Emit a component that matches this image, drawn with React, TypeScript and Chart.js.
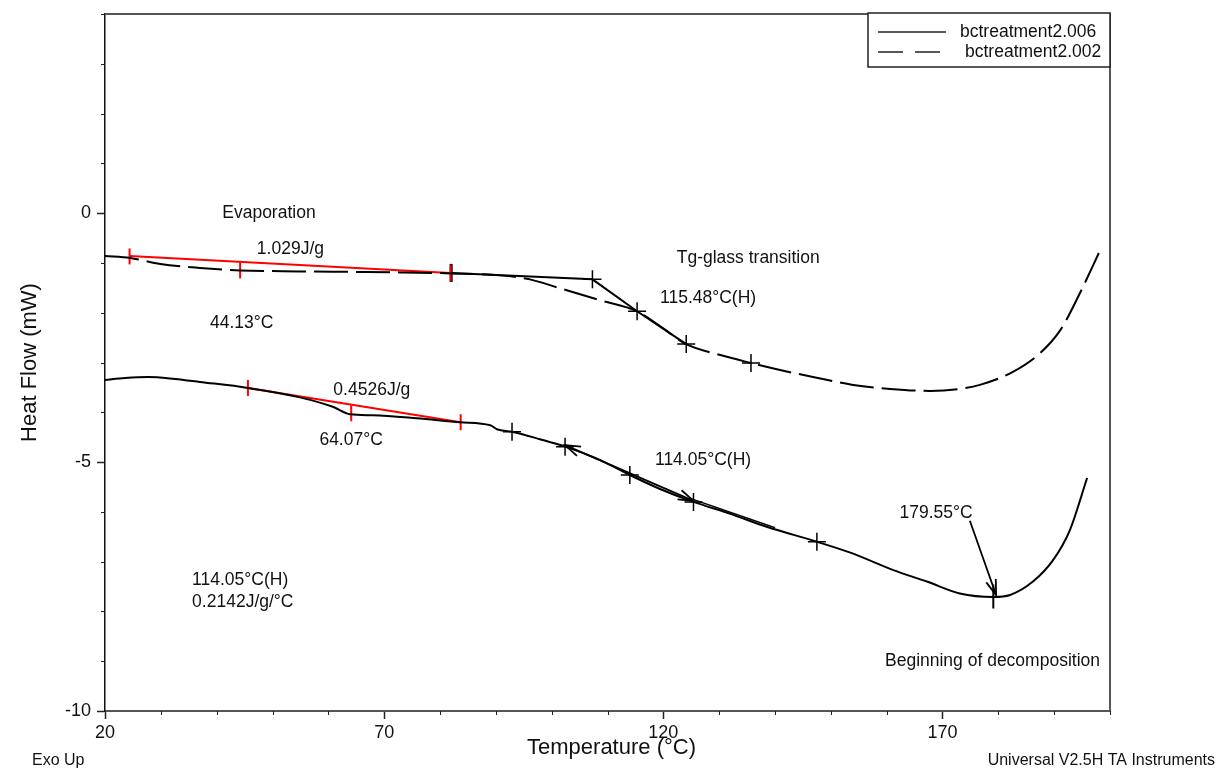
import React, { useEffect, useRef } from 'react';
import { Chart, registerables } from 'chart.js';

Chart.register(...registerables);

const FONT = "'Liberation Sans', Arial, sans-serif";

// Sample bctreatment2.006 (solid, lower curve)
const tempA = [20, 23.6, 27.7, 32.5, 37.0, 45.6, 54.9, 60.8, 63.9, 68.0, 75.8, 83.6, 89.0, 90.2, 92.9, 97.9, 102.4, 108.7, 114.0, 119.4, 125.4, 132.0, 138.5, 147.5, 153.5, 161.2, 167.2, 173.1, 179.1, 182.1, 186.2, 189.8, 192.8, 195.9];
const flowA = [-3.35, -3.31, -3.29, -3.33, -3.39, -3.51, -3.70, -3.89, -4.04, -4.06, -4.12, -4.20, -4.26, -4.34, -4.39, -4.54, -4.69, -4.96, -5.26, -5.54, -5.80, -6.04, -6.30, -6.60, -6.82, -7.17, -7.40, -7.64, -7.71, -7.67, -7.40, -6.97, -6.37, -5.32];

// Sample bctreatment2.002 (dashed, upper curve)
const tempB = [20, 24.5, 29.9, 37.0, 44.2, 54.9, 63.9, 72.8, 82.0, 90.8, 96.1, 101.5, 108.7, 115.3, 119.4, 124.1, 130.2, 135.7, 140.9, 146.8, 154.0, 160.6, 167.8, 173.1, 176.7, 182.6, 187.5, 191.1, 194.6, 198.0];
const flowB = [-0.86, -0.90, -1.02, -1.10, -1.15, -1.17, -1.18, -1.19, -1.21, -1.25, -1.33, -1.51, -1.75, -1.97, -2.27, -2.63, -2.85, -3.01, -3.15, -3.29, -3.45, -3.53, -3.57, -3.53, -3.45, -3.19, -2.81, -2.35, -1.61, -0.80];

// Evaporation integration baselines (red)
const redTopT = [24.4, 81.9];
const redTopF = [-0.86, -1.20];
const redTopTickT = [24.4, 44.2, 81.9];
const redTopTickF = [-0.87, -1.15, -1.20];
const redBotT = [45.6, 83.7];
const redBotF = [-3.51, -4.20];
const redBotTickT = [45.6, 64.1, 83.7];
const redBotTickF = [-3.51, -4.02, -4.20];

// Glass-transition construction (upper curve)
const tgTopLineT = [82.0, 107.3, 115.3, 124.1];
const tgTopLineF = [-1.20, -1.33, -1.97, -2.63];
const tgTopMarkT = [107.3, 115.3, 124.1, 135.7];
const tgTopMarkF = [-1.33, -1.97, -2.63, -3.01];
const tgTopBarT = [82.0];
const tgTopBarF = [-1.20];

// Glass-transition construction (lower curve)
const tgBotMarkT = [92.9, 102.4, 114.0, 125.4, 147.5];
const tgBotMarkF = [-4.39, -4.69, -5.26, -5.80, -6.60];
const tgBotLine2T = [124.8, 140.0];
const tgBotLine2F = [-5.73, -6.32];
const peakT = [179.1];
const peakF = [-7.70];

// Arrows: [fromT, fromF, toT, toF, headAtFrom, headAtTo]
const arrowsList: [number, number, number, number, boolean, boolean][] = [
  [125.4, -5.78, 102.4, -4.66, true, true],
  [174.9, -6.18, 179.6, -7.67, false, true],
];

// Text labels: [text, T, HF]
const labelsList: [string, number, number][] = [
  ['Evaporation', 41.0, 0.0],
  ['1.029J/g', 47.2, -0.73],
  ['44.13°C', 38.8, -2.21],
  ['Tg-glass transition', 122.4, -0.90],
  ['115.48°C(H)', 119.4, -1.71],
  ['0.4526J/g', 60.9, -3.55],
  ['64.07°C', 58.4, -4.56],
  ['114.05°C(H)', 118.5, -4.97],
  ['179.55°C', 162.3, -6.02],
  ['114.05°C(H)', 35.6, -7.37],
  ['0.2142J/g/°C', 35.6, -7.81],
  ['Beginning of decomposition', 159.7, -9.0],
];

const xMajor = [20, 70, 120, 170];
const yMajor = [0, -5, -10];
const seriesNames = ['bctreatment2.006', 'bctreatment2.002'];

const pts = (t: number[], f: number[]) => t.map((v, i) => ({ x: v, y: f[i] }));

const overlay = {
  id: 'overlay',
  afterDraw(chart: any) {
    const { ctx, chartArea: ca, scales } = chart;
    const x = scales.x;
    const y = scales.y;
    ctx.save();
    // frame top & right
    ctx.strokeStyle = '#555';
    ctx.lineWidth = 2;
    ctx.beginPath();
    ctx.moveTo(ca.left, ca.top);
    ctx.lineTo(ca.right, ca.top);
    ctx.lineTo(ca.right, ca.bottom);
    ctx.stroke();

    // minor ticks
    ctx.strokeStyle = '#222';
    ctx.lineWidth = 1;
    x.ticks.forEach((tk: any) => {
      if (xMajor.includes(tk.value)) return;
      const px = Math.round(x.getPixelForValue(tk.value)) + 0.5;
      ctx.beginPath();
      ctx.moveTo(px, ca.bottom);
      ctx.lineTo(px, ca.bottom + 4);
      ctx.stroke();
    });
    y.ticks.forEach((tk: any) => {
      if (yMajor.includes(tk.value)) return;
      const py = Math.round(y.getPixelForValue(tk.value)) + 0.5;
      ctx.beginPath();
      ctx.moveTo(ca.left, py);
      ctx.lineTo(ca.left - 4, py);
      ctx.stroke();
    });

    // arrows
    ctx.strokeStyle = '#000';
    ctx.lineWidth = 1.8;
    const head = (x1: number, y1: number, x2: number, y2: number) => {
      const a = Math.atan2(y2 - y1, x2 - x1);
      const L = 16;
      const s = 0.32;
      ctx.beginPath();
      ctx.moveTo(x2 - L * Math.cos(a - s), y2 - L * Math.sin(a - s));
      ctx.lineTo(x2, y2);
      ctx.lineTo(x2 - L * Math.cos(a + s), y2 - L * Math.sin(a + s));
      ctx.stroke();
    };
    arrowsList.forEach(([t1, f1, t2, f2, h1, h2]) => {
      const x1 = x.getPixelForValue(t1), y1 = y.getPixelForValue(f1);
      const x2 = x.getPixelForValue(t2), y2 = y.getPixelForValue(f2);
      ctx.beginPath();
      ctx.moveTo(x1, y1);
      ctx.lineTo(x2, y2);
      ctx.stroke();
      if (h2) head(x1, y1, x2, y2);
      if (h1) head(x2, y2, x1, y1);
    });

    // labels
    ctx.fillStyle = '#111';
    ctx.font = `17.5px ${FONT}`;
    ctx.textAlign = 'left';
    ctx.textBaseline = 'middle';
    labelsList.forEach(([s, t, f]) => {
      ctx.fillText(s, x.getPixelForValue(t), y.getPixelForValue(f));
    });

    // legend
    const lx = ca.right - 242;
    const ly = ca.top - 1;
    ctx.fillStyle = '#fff';
    ctx.fillRect(lx, ly, 242, 54);
    ctx.strokeStyle = '#222';
    ctx.lineWidth = 1.5;
    ctx.strokeRect(lx, ly, 242, 54);
    ctx.lineWidth = 1.5;
    ctx.beginPath();
    ctx.moveTo(lx + 10, ly + 19);
    ctx.lineTo(lx + 78, ly + 19);
    ctx.stroke();
    ctx.beginPath();
    ctx.moveTo(lx + 10, ly + 39);
    ctx.lineTo(lx + 35, ly + 39);
    ctx.moveTo(lx + 47, ly + 39);
    ctx.lineTo(lx + 72, ly + 39);
    ctx.stroke();
    ctx.fillStyle = '#111';
    ctx.fillText(seriesNames[0], lx + 92, ly + 19);
    ctx.fillText(seriesNames[1], lx + 97, ly + 39);

    // axis titles & footer
    ctx.font = `22px ${FONT}`;
    ctx.textAlign = 'center';
    ctx.fillText('Temperature (°C)', (ca.left + ca.right) / 2 + 4, ca.bottom + 37);
    ctx.save();
    ctx.translate(30, (ca.top + ca.bottom) / 2);
    ctx.rotate(-Math.PI / 2);
    ctx.fillText('Heat Flow (mW)', 0, 0);
    ctx.restore();
    ctx.font = `16px ${FONT}`;
    ctx.textAlign = 'left';
    ctx.fillText('Exo Up', 32, ca.bottom + 50);
    ctx.textAlign = 'right';
    ctx.fillText('Universal V2.5H TA Instruments', 1215, ca.bottom + 50);
    ctx.restore();
  },
};

export default function App() {
  const ref = useRef<HTMLCanvasElement | null>(null);
  useEffect(() => {
    if (!ref.current) return;
    Chart.defaults.font.family = FONT;
    const black = '#000';
    const red = '#ff0000';
    const chart = new Chart(ref.current, {
      type: 'line',
      data: {
        datasets: [
          { label: seriesNames[0], data: pts(tempA, flowA), borderColor: black, borderWidth: 2, pointRadius: 0, cubicInterpolationMode: 'monotone' },
          { label: seriesNames[1], data: pts(tempB, flowB), borderColor: black, borderWidth: 2, borderDash: [34, 8], pointRadius: 0, cubicInterpolationMode: 'monotone' },
          { label: 'redTop', data: pts(redTopT, redTopF), borderColor: red, borderWidth: 2, pointRadius: 0 },
          { label: 'redBot', data: pts(redBotT, redBotF), borderColor: red, borderWidth: 2, pointRadius: 0 },
          { label: 'redTopTicks', data: pts(redTopTickT, redTopTickF), showLine: false, pointStyle: 'line', rotation: 90, pointRadius: 8, borderColor: red, borderWidth: 2 },
          { label: 'redBotTicks', data: pts(redBotTickT, redBotTickF), showLine: false, pointStyle: 'line', rotation: 90, pointRadius: 8, borderColor: red, borderWidth: 2 },
          { label: 'tgTopLine', data: pts(tgTopLineT, tgTopLineF), borderColor: black, borderWidth: 2, pointRadius: 0 },
          { label: 'tgTopMarks', data: pts(tgTopMarkT, tgTopMarkF), showLine: false, pointStyle: 'cross', pointRadius: 9, borderColor: black, borderWidth: 1.5 },
          { label: 'tgTopBar', data: pts(tgTopBarT, tgTopBarF), showLine: false, pointStyle: 'line', rotation: 90, pointRadius: 9, borderColor: black, borderWidth: 3 },
          { label: 'tgBotMarks', data: pts(tgBotMarkT, tgBotMarkF), showLine: false, pointStyle: 'cross', pointRadius: 9, borderColor: black, borderWidth: 1.5 },
          { label: 'tgBotLine2', data: pts(tgBotLine2T, tgBotLine2F), borderColor: black, borderWidth: 1.5, pointRadius: 0 },
          { label: 'peak', data: pts(peakT, peakF), showLine: false, pointStyle: 'line', rotation: 90, pointRadius: 12, borderColor: black, borderWidth: 2 },
        ],
      },
      options: {
        responsive: false,
        animation: false,
        events: [],
        layout: { padding: { top: 14, right: 110, left: 0, bottom: 0 } },
        plugins: { legend: { display: false }, tooltip: { enabled: false }, title: { display: false } },
        scales: {
          x: {
            type: 'linear',
            min: 20,
            max: 200,
            afterFit: (s: any) => { s.height = 67; s.paddingLeft = 0; s.paddingRight = 0; },
            ticks: {
              stepSize: 10,
              autoSkip: false,
              maxRotation: 0,
              padding: 3,
              color: '#111',
              font: { size: 18, family: FONT },
              callback: (v: any) => (xMajor.includes(Number(v)) ? String(v) : ''),
            },
            grid: {
              display: true,
              drawOnChartArea: false,
              drawTicks: true,
              tickLength: 8,
              tickWidth: 1.5,
              tickColor: (c: any) => (c.tick && xMajor.includes(c.tick.value) ? '#222' : 'rgba(0,0,0,0)'),
            },
            border: { display: true, color: '#555', width: 2 },
          },
          y: {
            type: 'linear',
            min: -10,
            max: 4,
            afterFit: (s: any) => { s.width = 105; s.paddingTop = 0; s.paddingBottom = 0; },
            ticks: {
              stepSize: 1,
              autoSkip: false,
              padding: 6,
              color: '#111',
              font: { size: 18, family: FONT },
              callback: (v: any) => (yMajor.includes(Number(v)) ? String(v) : ''),
            },
            grid: {
              display: true,
              drawOnChartArea: false,
              drawTicks: true,
              tickLength: 8,
              tickWidth: 1.5,
              tickColor: (c: any) => (c.tick && yMajor.includes(c.tick.value) ? '#222' : 'rgba(0,0,0,0)'),
            },
            border: { display: true, color: '#111', width: 1.5 },
          },
        },
      },
      plugins: [overlay],
    } as any);
    return () => chart.destroy();
  }, []);
  return (
    <div style={{ position: 'absolute', left: 0, top: 0, width: 1220, height: 778, background: '#fff' }}>
      <canvas ref={ref} width={1220} height={778} style={{ display: 'block' }} />
    </div>
  );
}
